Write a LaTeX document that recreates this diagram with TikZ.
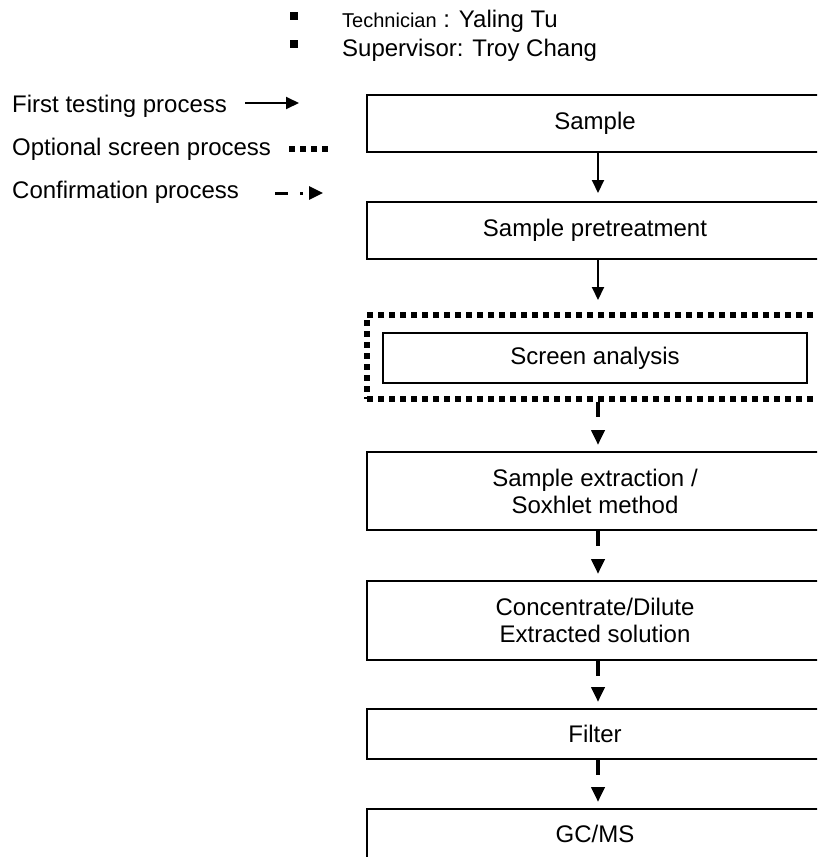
\documentclass[tikz,border=0pt]{standalone}
\usepackage{fontspec}
\setmainfont{Liberation Sans}
\usetikzlibrary{positioning,arrows.meta}

% looks that repeat in the flow chart
\tikzset{
  stepbox/.style={draw, line width=2pt, minimum width=456pt, inner sep=0pt,
    align=center, font=\fontsize{24}{27}\selectfont},
  optframe/.style={draw, line width=6pt, dash pattern=on 6pt off 5pt,
    minimum width=456pt, minimum height=84pt, inner sep=0pt},
  firstarrow/.style={line width=2pt, -{Triangle[length=13pt,width=12pt]}},
  confarrow/.style={line width=4pt, dash pattern=on 15pt off 100pt,
    -{Triangle[length=15pt,width=13pt]}, shorten >=6pt},
  legendtext/.style={anchor=base west, inner sep=0pt, font=\fontsize{24}{27}\selectfont},
  bullet/.style={fill, minimum size=8pt, inner sep=0pt},
}

\begin{document}
\begin{tikzpicture}[x=1pt,y=-1pt]
  \useasboundingbox (0,0) rectangle (817,857);
  \clip (0,0) rectangle (817,857);
  % staff
  \node[bullet] (bulA) at (293.5,15.5) {};
  \node[bullet] (bulB) at (293.5,44) {};
  \node[legendtext] (tech) at (342,27.5) {{\fontsize{20}{24}\selectfont Technician} : Yaling Tu};
  \node[legendtext] (super) at (342,56) {Supervisor: Troy Chang};
  % legend
  \node[legendtext] (first) at (12,112) {First testing process};
  \node[legendtext] (optional) at (12,155) {Optional screen process};
  \node[legendtext] (confirm) at (12,198) {Confirmation process};
  \coordinate (firstA) at (245,103);
  \coordinate (firstB) at (299,103);
  \draw[firstarrow] (firstA) -- (firstB);
  \coordinate (optA) at (289,149);
  \coordinate (optB) at (328,149);
  \draw[line width=6pt, dash pattern=on 6pt off 5pt] (optA) -- (optB);
  \coordinate (confA) at (275,193);
  \coordinate (confB) at (323,193);
  \draw[line width=3pt, dash pattern=on 13pt off 12pt on 3pt off 30pt,
    -{Triangle[length=14pt,width=13pt]}] (confA) -- (confB);
  % the steps
  \node[stepbox, minimum height=57pt] (sample) at (595,123.5) {Sample};
  \node[stepbox, minimum height=57pt] (pretreat) at (595,230.5) {Sample pretreatment};
  \node[optframe] (optbox) at (595,357) {};
  \node[stepbox, minimum width=424pt, minimum height=50pt] (screen) at (595,358) {Screen analysis};
  \node[stepbox, minimum height=78pt] (extract) at (595,491) {Sample extraction /\\ Soxhlet method};
  \node[stepbox, minimum height=79pt] (conc) at (595,620.5) {Concentrate/Dilute\\Extracted solution};
  \node[stepbox, minimum height=50pt] (filter) at (595,734) {Filter};
  \node[stepbox, minimum height=50pt] (gcms) at (595,834) {GC/MS};
  % connectors
  \draw[firstarrow, shorten >=8pt] ([xshift=3pt]sample.south) -- ([xshift=3pt]pretreat.north);
  \draw[firstarrow, shorten >=12pt] ([xshift=3pt]pretreat.south) -- ([xshift=3pt]optbox.north);
  \draw[confarrow] ([xshift=3pt]optbox.south) -- ([xshift=3pt]extract.north);
  \draw[confarrow] ([xshift=3pt]extract.south) -- ([xshift=3pt]conc.north);
  \draw[confarrow] ([xshift=3pt]conc.south) -- ([xshift=3pt]filter.north);
  \draw[confarrow] ([xshift=3pt]filter.south) -- ([xshift=3pt]gcms.north);
\end{tikzpicture}
\end{document}
